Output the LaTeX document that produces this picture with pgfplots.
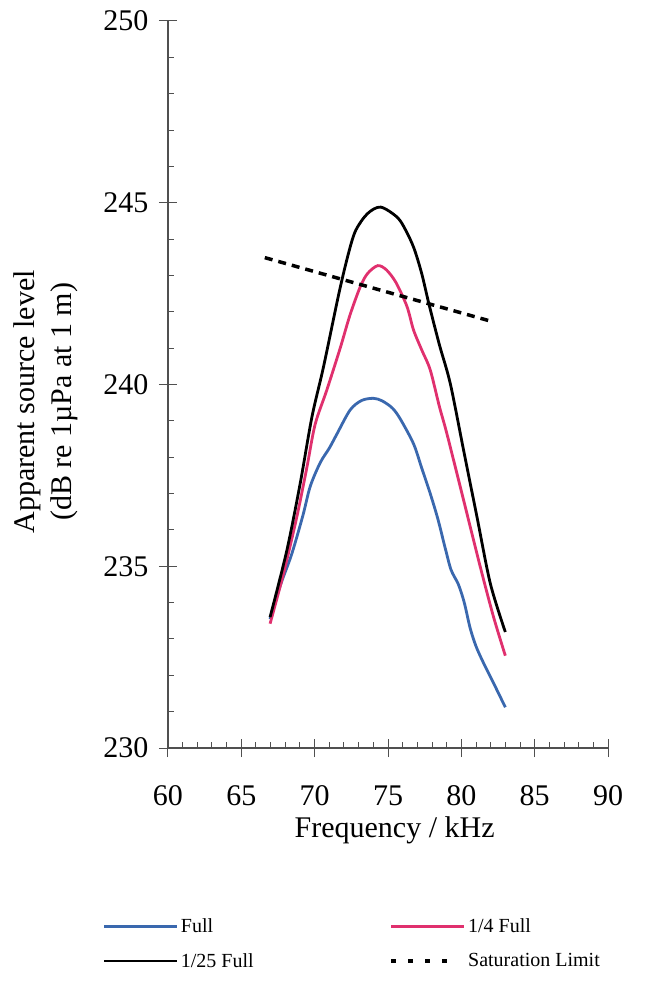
\documentclass[border=0pt]{standalone}
\usepackage{pgfplots}
\pgfplotsset{compat=1.18}
\usepackage{fontspec}
\setmainfont{Liberation Serif}
\definecolor{cblue}{HTML}{3A68AE}
\definecolor{cpink}{HTML}{E0306E}
\definecolor{axgray}{HTML}{505050}
\begin{document}
\begin{tikzpicture}
\begin{axis}[
  scale only axis,
  width=440pt, height=727pt,
  xmin=60, xmax=90, ymin=230, ymax=250,
  axis x line=bottom, axis y line=left,
  axis line style={-, axgray, line width=1.1pt},
  xtick={60,65,...,90}, ytick={230,235,...,250},
  minor x tick num=4, minor y tick num=4,
  tick align=inside,
  major tick length=18pt, minor tick length=6pt,
  tick style={axgray, line width=1pt},
  major x tick style={yshift=-9pt},
  major y tick style={xshift=-9pt},
  /pgf/number format/assume math mode=true,
  ticklabel style={font=\fontsize{30}{34}\selectfont},
  xticklabel style={yshift=-34pt},
  yticklabel style={xshift=-16pt},
  xlabel={Frequency / kHz},
  xlabel style={font=\fontsize{30}{34}\selectfont, at={(axis description cs:0.515,-0.113)}, anchor=center},
  ylabel={\shortstack{Apparent source level\\[7pt](dB re 1µPa at 1 m)}},
  ylabel style={font=\fontsize{30}{36}\selectfont, at={(axis description cs:-0.278,0.476)}, anchor=center, rotate=0},
  legend columns=2,
  legend cell align=left,
  legend image code/.code={\draw[#1] (0pt,0pt) -- (73pt,0pt);},
  legend style={draw=none, fill=none, inner sep=0pt,
    at={(axis description cs:-0.148,-0.232)}, anchor=north west,
    font=\fontsize{20}{24}\selectfont,
    row sep=15pt,
    nodes={inner sep=2pt},
    /tikz/every even column/.append style={column sep=134pt}},
]
\addplot[cblue, line width=2.8pt, smooth, tension=0.5] coordinates {
(66.96,233.55)(67.19,233.9)(67.77,234.6)(68.44,235.34)(69.2,236.4)(69.7,237.2)(70.38,237.85)(71.0,238.25)(71.52,238.64)(72.42,239.3)(73.2,239.56)(74.0,239.62)(74.6,239.55)(75.3,239.35)(75.84,239.05)(76.74,238.37)(77.3,237.7)(77.88,237.0)(78.4,236.3)(78.9,235.5)(79.3,234.9)(79.8,234.5)(80.2,234.0)(80.6,233.3)(81.0,232.8)(81.5,232.35)(82.3,231.7)(83.0,231.12)
};
\addlegendentry{Full}
\addplot[cpink, line width=2.8pt, smooth, tension=0.5] coordinates {
(66.96,233.42)(67.87,234.79)(68.78,236.35)(69.47,237.72)(70.03,238.9)(70.83,239.85)(71.74,241.0)(72.4,241.9)(73.1,242.68)(73.6,243.05)(74.3,243.27)(74.9,243.15)(75.55,242.8)(76.29,242.15)(76.74,241.5)(77.3,240.95)(77.88,240.4)(78.5,239.4)(79.02,238.64)(80.16,236.81)(81.3,234.97)(82.2,233.6)(83.0,232.54)
};
\addlegendentry{1/4 Full}
\addplot[black, line width=2.8pt, smooth, tension=0.5] coordinates {
(66.96,233.6)(68.1,235.43)(69.01,237.27)(69.81,239.1)(70.6,240.48)(71.65,242.5)(72.3,243.6)(72.8,244.24)(73.6,244.7)(74.5,244.88)(75.63,244.6)(76.2,244.25)(76.77,243.75)(77.3,243.05)(77.8,242.2)(78.5,241.1)(79.25,240.02)(80.16,238.18)(81.07,236.35)(81.98,234.52)(83.0,233.19)
};
\addlegendentry{1/25 Full}
\addplot[black, line width=3.5pt, dash pattern=on 8pt off 6pt, forget plot] coordinates {
(66.6,243.49)(82.2,241.72)
};
\addlegendimage{black, line width=3.5pt, dash pattern=on 5pt off 12pt, shorten >=16pt}
\addlegendentry{Saturation Limit}
\end{axis}
\useasboundingbox (-168pt,-239pt) rectangle (490pt,748pt);
\end{tikzpicture}
\end{document}
